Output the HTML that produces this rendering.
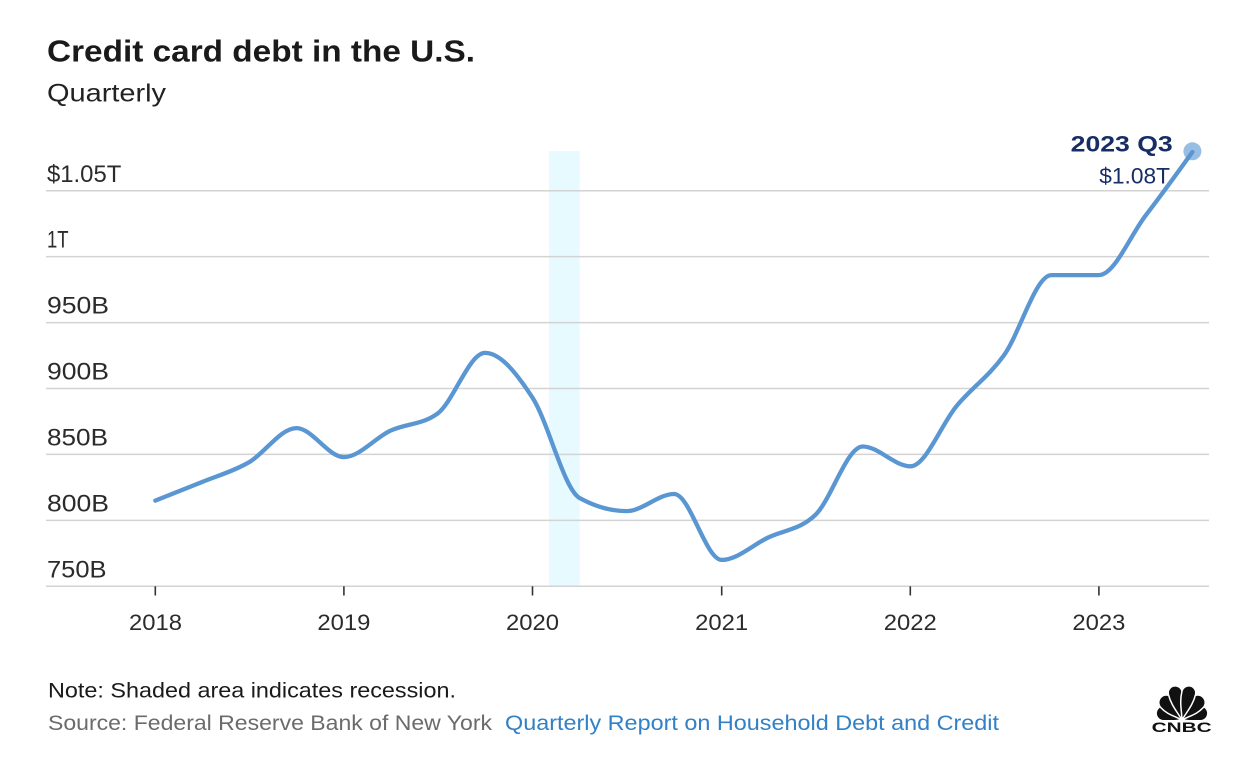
<!DOCTYPE html>
<html>
<head>
<meta charset="utf-8">
<style>
  html, body { margin: 0; padding: 0; background: #ffffff; }
  body { width: 1250px; height: 769px; overflow: hidden; }
  svg { display: block; }
  text { font-family: "Liberation Sans", Arial, sans-serif; }
</style>
</head>
<body>
<svg width="1250" height="769" viewBox="0 0 1250 769" xmlns="http://www.w3.org/2000/svg">
  <rect x="0" y="0" width="1250" height="769" fill="#ffffff"/>

  <!-- Title -->
  <text x="47" y="61.7" font-size="31" font-weight="bold" fill="#1a1a1a" textLength="428" lengthAdjust="spacingAndGlyphs">Credit card debt in the U.S.</text>
  <text x="47" y="101.7" font-size="25" fill="#222222" textLength="119" lengthAdjust="spacingAndGlyphs">Quarterly</text>

  <!-- Recession band -->
  <rect x="549" y="151" width="30.5" height="435.3" fill="#e6faff"/>

  <!-- Gridlines -->
  <g stroke="#d3d3d3" stroke-width="1.5">
    <line x1="46" y1="190.7" x2="1209" y2="190.7"/>
    <line x1="46" y1="256.6" x2="1209" y2="256.6"/>
    <line x1="46" y1="322.6" x2="1209" y2="322.6"/>
    <line x1="46" y1="388.5" x2="1209" y2="388.5"/>
    <line x1="46" y1="454.4" x2="1209" y2="454.4"/>
    <line x1="46" y1="520.4" x2="1209" y2="520.4"/>
    <line x1="46" y1="586.3" x2="1209" y2="586.3"/>
  </g>

  <!-- Y labels -->
  <g font-size="24" fill="#2b2b2b">
    <text x="47" y="182" textLength="74.3" lengthAdjust="spacingAndGlyphs">$1.05T</text>
    <text x="47" y="247.4" textLength="21.6" lengthAdjust="spacingAndGlyphs">1T</text>
    <text x="47" y="313.6" textLength="62" lengthAdjust="spacingAndGlyphs">950B</text>
    <text x="47" y="379.5" textLength="62" lengthAdjust="spacingAndGlyphs">900B</text>
    <text x="47" y="445.4" textLength="61" lengthAdjust="spacingAndGlyphs">850B</text>
    <text x="47" y="511.4" textLength="62" lengthAdjust="spacingAndGlyphs">800B</text>
    <text x="47" y="577.3" textLength="59.5" lengthAdjust="spacingAndGlyphs">750B</text>
  </g>

  <!-- X ticks -->
  <g stroke="#333333" stroke-width="1.6">
    <line x1="155.3" y1="586.3" x2="155.3" y2="595.5"/>
    <line x1="343.9" y1="586.3" x2="343.9" y2="595.5"/>
    <line x1="532.5" y1="586.3" x2="532.5" y2="595.5"/>
    <line x1="721.7" y1="586.3" x2="721.7" y2="595.5"/>
    <line x1="910.3" y1="586.3" x2="910.3" y2="595.5"/>
    <line x1="1098.9" y1="586.3" x2="1098.9" y2="595.5"/>
  </g>

  <!-- X labels -->
  <g font-size="22" fill="#2b2b2b">
    <text x="129" y="630" textLength="53" lengthAdjust="spacingAndGlyphs">2018</text>
    <text x="317.4" y="630" textLength="53" lengthAdjust="spacingAndGlyphs">2019</text>
    <text x="506" y="630" textLength="53" lengthAdjust="spacingAndGlyphs">2020</text>
    <text x="695.2" y="630" textLength="53" lengthAdjust="spacingAndGlyphs">2021</text>
    <text x="883.8" y="630" textLength="53" lengthAdjust="spacingAndGlyphs">2022</text>
    <text x="1072.4" y="630" textLength="53" lengthAdjust="spacingAndGlyphs">2023</text>
  </g>

  <!-- Series line -->
  <path fill="none" stroke="#5a96d2" stroke-width="4.3" stroke-linecap="round" stroke-linejoin="round"
    d="M155.3,500.6
       C170.8,494.5 186.3,488.4 201.8,482.1
       C217.5,475.7 233.1,471.4 248.8,462.4
       C264.7,453.3 280.5,428.1 296.4,428.1
       C312.2,428.1 328.1,457.1 343.9,457.1
       C359.4,457.1 374.9,437.9 390.4,430.7
       C406.1,423.4 421.8,425.0 437.5,413.6
       C453.3,402.1 469.2,352.9 485.0,352.9
       C500.8,352.9 516.7,373.4 532.5,397.7
       C548.2,421.8 563.9,489.2 579.6,498.0
       C595.3,506.7 610.9,511.1 626.6,511.1
       C642.4,511.1 658.3,494.0 674.1,494.0
       C690.0,494.0 705.8,559.9 721.7,559.9
       C737.2,559.9 752.7,544.9 768.2,537.5
       C783.9,530.0 799.5,530.0 815.2,515.1
       C831.1,500.0 846.9,446.5 862.8,446.5
       C878.6,446.5 894.5,466.3 910.3,466.3
       C925.8,466.3 941.3,424.1 956.8,405.7
       C972.5,387.1 988.1,377.1 1003.8,355.5
       C1019.7,333.6 1035.5,275.1 1051.4,275.1
       C1067.2,275.1 1083.1,275.1 1098.9,275.1
       C1114.4,275.1 1129.9,236.1 1145.4,215.8
       C1161.1,195.3 1176.7,173.9 1192.4,152.0"/>

  <!-- End dot -->
  <circle cx="1192.4" cy="151.3" r="9" fill="#5a96d2" fill-opacity="0.62"/>

  <!-- Annotation -->
  <text x="1070.7" y="151.7" font-size="22" font-weight="bold" fill="#172d66" textLength="102" lengthAdjust="spacingAndGlyphs">2023 Q3</text>
  <text x="1099.3" y="183.5" font-size="22" fill="#172d66" textLength="70.7" lengthAdjust="spacingAndGlyphs">$1.08T</text>

  <!-- Footer -->
  <text x="48" y="697.3" font-size="21" fill="#1a1a1a" textLength="408" lengthAdjust="spacingAndGlyphs">Note: Shaded area indicates recession.</text>
  <text x="48" y="730" font-size="21" fill="#6b6b6b" textLength="444" lengthAdjust="spacingAndGlyphs">Source: Federal Reserve Bank of New York</text>
  <text x="505" y="730" font-size="21" fill="#3280c6" textLength="494" lengthAdjust="spacingAndGlyphs">Quarterly Report on Household Debt and Credit</text>

  <!-- CNBC logo -->
  <g fill="#111111" stroke="#ffffff" stroke-width="1.5" stroke-linejoin="round">
    <path transform="translate(1182,720) rotate(-70)" d="M0,0 C-2.6,-6.75 -7.5,-11.7 -7.5,-19.5 A7.5,7.5 0 0 1 7.5,-19.5 C7.5,-11.7 2.6,-6.75 0,0Z"/>
    <path transform="translate(1182,720) rotate(70)" d="M0,0 C-2.6,-6.75 -7.5,-11.7 -7.5,-19.5 A7.5,7.5 0 0 1 7.5,-19.5 C7.5,-11.7 2.6,-6.75 0,0Z"/>
    <path transform="translate(1182,720) rotate(-42)" d="M0,0 C-2.6,-7.75 -7.5,-14.1 -7.5,-23.5 A7.5,7.5 0 0 1 7.5,-23.5 C7.5,-14.1 2.6,-7.75 0,0Z"/>
    <path transform="translate(1182,720) rotate(42)" d="M0,0 C-2.6,-7.75 -7.5,-14.1 -7.5,-23.5 A7.5,7.5 0 0 1 7.5,-23.5 C7.5,-14.1 2.6,-7.75 0,0Z"/>
    <path transform="translate(1182,720) rotate(-14)" d="M0,0 C-2.45,-8.75 -7,-16.8 -7,-28 A7,7 0 0 1 7,-28 C7,-16.8 2.45,-8.75 0,0Z"/>
    <path transform="translate(1182,720) rotate(14)" d="M0,0 C-2.45,-8.75 -7,-16.8 -7,-28 A7,7 0 0 1 7,-28 C7,-16.8 2.45,-8.75 0,0Z"/>
  </g>
  <rect x="1140" y="720" width="85" height="20" fill="#ffffff"/>
  <text x="1151.7" y="731.8" font-size="14" font-weight="bold" fill="#111111" textLength="60" lengthAdjust="spacingAndGlyphs">CNBC</text>
</svg>
</body>
</html>
